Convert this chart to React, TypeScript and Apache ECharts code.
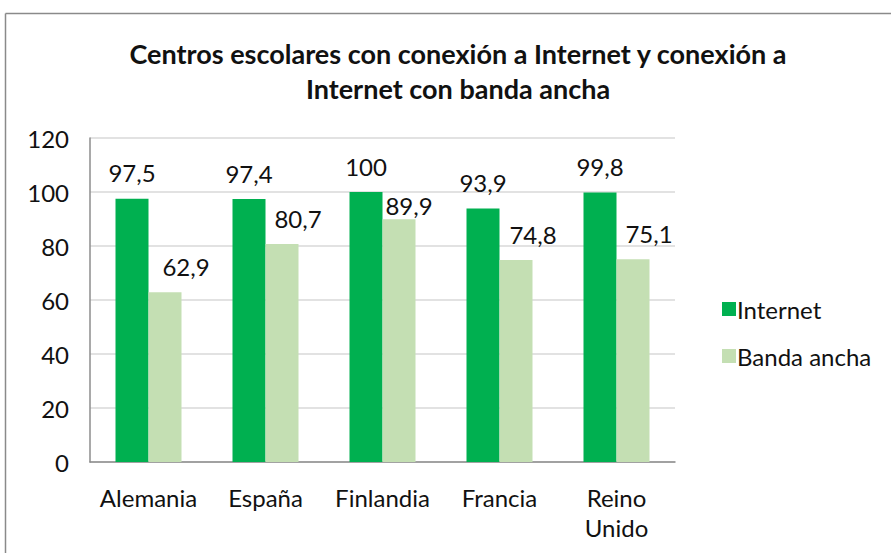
import React, { useEffect, useRef } from "react";
import * as echarts from "echarts";

const categories = ["Alemania", "España", "Finlandia", "Francia", "Reino\nUnido"];
const internet = [97.5, 97.4, 100, 93.9, 99.8];
const bandaAncha = [62.9, 80.7, 89.9, 74.8, 75.1];
const seriesNames = ["Internet", "Banda ancha"];
const titleText = "Centros escolares con conexión a Internet y conexión a\nInternet con banda ancha";

// label nudges (as placed in the original chart)
const bandaLabelShift: [number, number][] = [[21, 0], [16, 0], [10, 12], [17, 0], [16, 0]];

const fmt = (v: number) => String(v).replace(".", ",");
const FONT = "Lato";
const TXT = "#111";
const FS = 24;

export default function App() {
  const ref = useRef<HTMLDivElement>(null);
  useEffect(() => {
    if (!ref.current) return;
    const chart = echarts.init(ref.current, undefined, { renderer: "svg" });
    const labelCfg = {
      show: true,
      position: "top",
      distance: 14,
      fontFamily: FONT,
      fontSize: FS,
      color: TXT,
      formatter: (p: any) => fmt(p.value),
    };
    chart.setOption({
      animation: false,
      backgroundColor: "#fff",
      textStyle: { fontFamily: FONT },
      title: {
        text: titleText,
        left: 453,
        top: 31,
        textAlign: "center",
        textStyle: { fontFamily: FONT, fontWeight: "bold", fontSize: 27, lineHeight: 35, color: TXT },
      },
      graphic: [
        { type: "line", shape: { x1: 5.5, y1: 13.5, x2: 891, y2: 13.5 }, style: { stroke: "#8a8a8a", lineWidth: 1.5 } },
        { type: "line", shape: { x1: 5.5, y1: 13.5, x2: 5.5, y2: 553 }, style: { stroke: "#8a8a8a", lineWidth: 1.5 } },
      ],
      legend: {
        orient: "vertical",
        left: 717,
        top: 292,
        itemWidth: 14,
        itemHeight: 14,
        itemGap: 23,
        icon: "rect",
        textStyle: { fontFamily: FONT, fontSize: FS, color: TXT, padding: [0, 0, 0, -4] },
        data: seriesNames,
      },
      grid: { left: 90, right: 216, top: 138, bottom: 91, containLabel: false },
      xAxis: {
        type: "category",
        data: categories,
        axisLine: { lineStyle: { color: "#8c8c8c", width: 1.5 } },
        axisTick: { show: false },
        axisLabel: { fontFamily: FONT, fontSize: FS, color: TXT, margin: 20, lineHeight: 30, interval: 0 },
      },
      yAxis: {
        type: "value",
        min: 0,
        max: 120,
        interval: 20,
        axisLine: { show: true, lineStyle: { color: "#8c8c8c", width: 1.5 } },
        axisTick: { show: false },
        splitLine: { lineStyle: { color: "#d9d9d9", width: 1.5 } },
        axisLabel: { fontFamily: FONT, fontSize: FS, color: TXT, margin: 21 },
      },
      series: [
        {
          name: seriesNames[0],
          type: "bar",
          data: internet,
          itemStyle: { color: "#00b050" },
          barWidth: 33,
          barGap: "0%",
          label: labelCfg,
        },
        {
          name: seriesNames[1],
          type: "bar",
          data: bandaAncha.map((v, i) => ({ value: v, label: { offset: bandaLabelShift[i] } })),
          itemStyle: { color: "#c4dfb3" },
          barWidth: 33,
          barGap: "0%",
          label: labelCfg,
        },
      ],
    });
    return () => chart.dispose();
  }, []);
  return <div ref={ref} style={{ position: "fixed", left: 0, top: 0, width: 891, height: 553 }} />;
}
